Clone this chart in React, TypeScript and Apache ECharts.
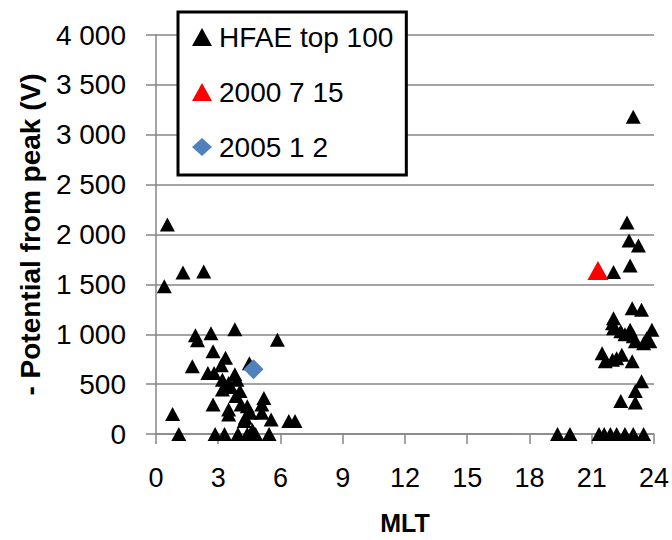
import React, { useEffect, useRef } from "react";
import * as echarts from "echarts";

const xTicks = [0, 3, 6, 9, 12, 15, 18, 21, 24];
const yTicks = [0, 500, 1000, 1500, 2000, 2500, 3000, 3500, 4000];

const seriesNames = ["HFAE top 100", "2000 7 15", "2005 1 2"];

// HFAE top 100: [MLT, potential]
const hfaeMlt = [
  0.55, 0.4, 1.3, 2.3, 0.8, 1.1,
  1.9, 2.0, 2.65, 3.8, 5.85,
  2.75, 3.35, 1.75, 2.5, 2.8, 3.15, 3.8, 4.5,
  3.2, 3.5, 3.9, 3.2, 4.05, 3.6,
  2.75, 3.5, 3.5, 4.1, 4.4, 4.55, 4.3, 4.25,
  5.2, 5.1, 5.1, 5.55, 6.4, 6.7,
  3.85, 4.65,
  2.85, 3.3, 3.95, 4.4, 4.8, 5.45,
  19.35, 19.95, 21.35, 21.6, 21.9, 22.2, 22.6, 23.0, 23.5,
  23.0, 22.7, 22.8, 23.25, 22.85, 22.05,
  22.95, 23.4, 22.05, 22.0, 22.05, 22.4, 22.85, 23.9, 23.0, 23.1, 23.65, 23.8, 23.5, 22.6,
  21.5, 21.65, 22.0, 22.2, 22.45, 22.95,
  23.4, 23.1, 22.4, 23.1,
];
const hfaeV = [
  2100, 1480, 1620, 1630, 200, 0,
  990, 940, 1010, 1050, 945,
  830, 765, 680, 612, 612, 690, 600, 710,
  545, 512, 545, 446, 430, 470,
  296, 246, 196, 296, 279, 213, 163, 130,
  362, 296, 213, 146, 130, 130,
  380, 40,
  0, 0, 0, 0, 0, 0,
  0, 0, 0, 0, 0, 0, 0, 0, 0,
  3180, 2120, 1940, 1890, 1690, 1625,
  1260, 1245, 1160, 1110, 1060, 1030, 1045, 1045, 980, 930, 960, 930, 910, 1000,
  810, 730, 745, 760, 795, 730,
  530, 430, 330, 315,
];

const event2000Mlt = [21.3];
const event2000V = [1640];
const event2005Mlt = [4.7];
const event2005V = [650];

const FONT = "'Liberation Sans', Arial, sans-serif";

const fmt = (v: number) => String(v).replace(/\B(?=(\d{3})+(?!\d))/g, " ");

export default function App() {
  const ref = useRef<HTMLDivElement>(null);
  useEffect(() => {
    if (!ref.current) return;
    const chart = echarts.init(ref.current, undefined, { renderer: "svg" });
    const zip = (xs: number[], ys: number[]) => xs.map((x, i) => [x, ys[i]]);
    chart.setOption({
      animation: false,
      backgroundColor: "#ffffff",
      textStyle: { fontFamily: FONT },
      grid: { left: 156, right: 18, top: 35, bottom: 102, containLabel: false },
      legend: {
        left: 178,
        top: 12,
        orient: "vertical",
        backgroundColor: "#ffffff",
        borderColor: "#000000",
        borderWidth: 3,
        borderRadius: 0,
        padding: [9, 13, 12, 14],
        itemGap: 23,
        itemWidth: 20,
        itemHeight: 18,
        textStyle: { fontFamily: FONT, fontSize: 28, color: "#000", lineHeight: 32, padding: [0, 0, 0, 2] },
        data: seriesNames,
      },
      xAxis: {
        type: "value",
        min: 0,
        max: 24,
        interval: 3,
        name: "MLT",
        nameLocation: "middle",
        nameGap: 76,
        nameTextStyle: { fontFamily: FONT, fontSize: 25, fontWeight: "bold", color: "#000" },
        axisLine: { show: true, onZero: false, lineStyle: { color: "#868686", width: 1.5 } },
        axisTick: { show: true, inside: false, length: 10, lineStyle: { color: "#868686", width: 1.5 } },
        axisLabel: { fontFamily: FONT, fontSize: 27, color: "#000", margin: 30, formatter: (v: number) => (xTicks.includes(v) ? String(v) : "") },
        splitLine: { show: false },
      },
      yAxis: {
        type: "value",
        min: 0,
        max: 4000,
        interval: 500,
        name: "- Potential from peak (V)",
        nameLocation: "middle",
        nameGap: 112,
        nameRotate: 90,
        nameTextStyle: { fontFamily: FONT, fontSize: 28, fontWeight: "bold", color: "#000" },
        axisLine: { show: true, lineStyle: { color: "#868686", width: 1.5 } },
        axisTick: { show: true, inside: false, length: 10, lineStyle: { color: "#868686", width: 1.5 } },
        axisLabel: { fontFamily: FONT, fontSize: 28, color: "#000", margin: 30, formatter: (v: number) => (yTicks.includes(v) ? fmt(v) : "") },
        splitLine: { show: true, lineStyle: { color: "#868686", width: 1.5 } },
      },
      series: [
        {
          name: seriesNames[0],
          type: "scatter",
          symbol: "triangle",
          symbolSize: [15, 14],
          itemStyle: { color: "#000000", opacity: 1 },
          data: zip(hfaeMlt, hfaeV),
          z: 2,
        },
        {
          name: seriesNames[1],
          type: "scatter",
          symbol: "triangle",
          symbolSize: [21, 19],
          itemStyle: { color: "#ff0000", opacity: 1 },
          data: zip(event2000Mlt, event2000V),
          z: 3,
        },
        {
          name: seriesNames[2],
          type: "scatter",
          symbol: "diamond",
          symbolSize: [20, 20],
          itemStyle: { color: "#4f81bd", opacity: 1 },
          data: zip(event2005Mlt, event2005V),
          z: 4,
        },
      ],
    });
    return () => chart.dispose();
  }, []);
  return <div ref={ref} style={{ position: "fixed", left: 0, top: 0, width: 672, height: 540 }} />;
}
